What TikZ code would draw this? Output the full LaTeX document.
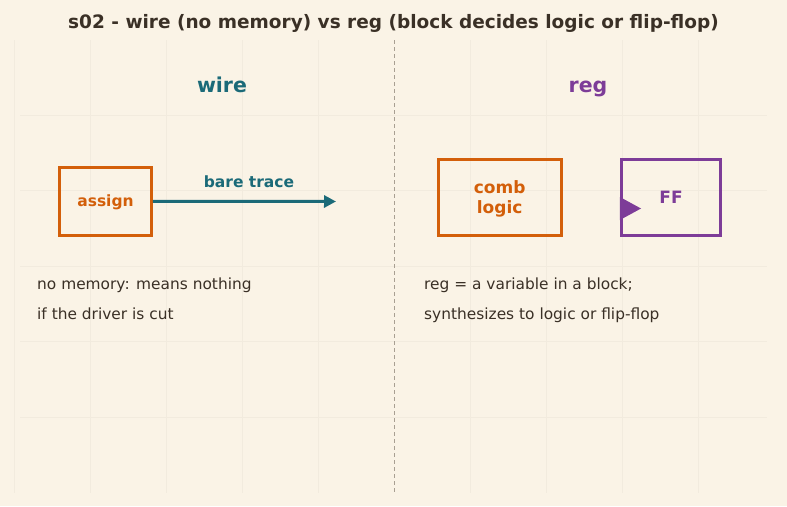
\documentclass[tikz,border=0pt]{standalone}
\usepackage{fontspec}
\setmainfont{DejaVu Sans}
\usetikzlibrary{arrows.meta}
\definecolor{bg}{HTML}{FAF3E6}
\definecolor{ink}{HTML}{3A3026}
\definecolor{teal}{HTML}{1B6A78}
\definecolor{orng}{HTML}{D35F0A}
\definecolor{purp}{HTML}{7D3C98}
\definecolor{gridc}{HTML}{F2EBDE}
\definecolor{dashc}{HTML}{A89F92}
\tikzset{
  box/.style={draw=#1, line width=3.2pt, inner sep=0pt},
  lbl/.style={anchor=base, text=#1, font=\bfseries\fontsize{15.5}{18}\selectfont, inner sep=0pt},
  body/.style={anchor=base west, text=ink, font=\fontsize{15.4}{18}\selectfont, inner sep=0pt},
  head/.style={anchor=base, font=\bfseries\fontsize{20.5}{24}\selectfont, text=#1, inner sep=0pt}
}
\begin{document}
\begin{tikzpicture}[x=1pt,y=-1pt]
\fill[bg] (0,0) rectangle (787,506);
\useasboundingbox (0,0) rectangle (787,506);
% faint grid
\foreach \x in {14,90,166,242,318,470,546,622,698}
  \draw[gridc, line width=0.6pt] (\x,40) -- (\x,493);
\foreach \y in {115,190,266,341,417}
  \draw[gridc, line width=0.6pt] (20,\y) -- (767,\y);
% title
\node[anchor=base, inner sep=0pt, text=ink, font=\bfseries\fontsize{18.5}{22}\selectfont] (title) at (393.5,28.5) {s02 - wire (no memory) vs reg (block decides logic or flip-flop)};
% divider
\coordinate (dtop) at (394,40);
\coordinate (dbot) at (394,492);
\draw[dashc, line width=1pt, dash pattern=on 4pt off 3pt] (dtop) -- (dbot);
% headers
\node[head=teal] (wire) at (222,92) {wire};
\node[head=purp] (reg) at (588,92) {reg};
% wire side
\node[box=orng, minimum width=91.5pt, minimum height=67.7pt] (assign) at (105.5,201.3) {};
\node[lbl=orng] (assignt) at (105.5,206.7) {assign};
\coordinate (tip) at (336,201.5);
\draw[teal, line width=3pt, -{Triangle[length=12pt,width=12pt]}] (assign.east) -- (tip);
\node[lbl=teal] (bt) at (249,187) {bare trace};
% reg side
\node[box=orng, minimum width=123pt, minimum height=76pt] (comb) at (499.7,197.5) {};
\node[lbl=orng, font=\bfseries\fontsize{17}{20}\selectfont] (combt) at (499.7,193.3) {comb};
\node[lbl=orng, font=\bfseries\fontsize{17}{20}\selectfont] (logict) at (499.7,213.3) {logic};
\node[box=purp, minimum width=99pt, minimum height=76pt] (ff) at (671,197.5) {};
\node[lbl=purp, font=\bfseries\fontsize{17}{20}\selectfont] (fft) at (671,203.3) {FF};
\fill[purp] (ff.west |- 0,197) -- (641,208.5) -- (ff.west |- 0,220) -- cycle;
% notes
\node[body] (n1) at (37,289) {no memory: means nothing};
\node[body] (n2) at (37,319) {if the driver is cut};
\node[body] (n3) at (424,289) {reg = a variable in a block;};
\node[body] (n4) at (424,319) {synthesizes to logic or flip-flop};
\end{tikzpicture}
\end{document}
